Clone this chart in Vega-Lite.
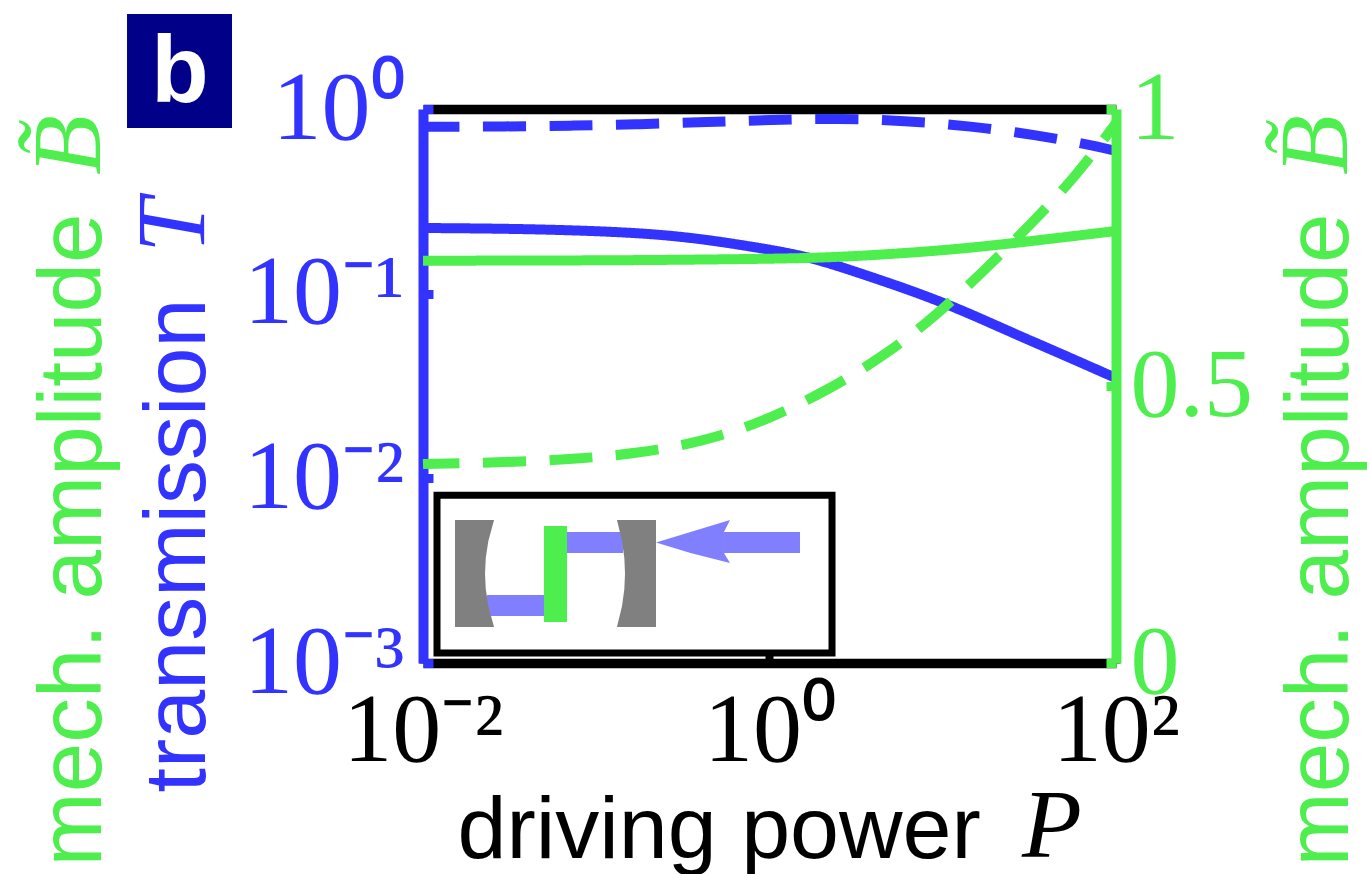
{
"$schema":"https://vega.github.io/schema/vega-lite/v6.json",
"width":693,"height":554,
"autosize":"none",
"padding":{"left":423,"top":109,"right":251,"bottom":211},
"background":"white",
"config":{"view":{"stroke":null},"axis":{"grid":false}},
"datasets":{
"blue":[
{"P":0.01,"T":0.2268,"model":"solid"},{"P":0.0363,"T":0.2248,"model":"solid"},{"P":0.1371,"T":0.2166,"model":"solid"},{"P":0.334,"T":0.2035,"model":"solid"},{"P":0.8035,"T":0.1796,"model":"solid"},{"P":1.714,"T":0.1586,"model":"solid"},{"P":3.33,"T":0.1289,"model":"solid"},{"P":6.47,"T":0.1047,"model":"solid"},{"P":12.6,"T":0.0823,"model":"solid"},{"P":24.4,"T":0.0622,"model":"solid"},{"P":47.5,"T":0.0475,"model":"solid"},{"P":100,"T":0.0349,"model":"solid"},
{"P":0.01,"T":0.801,"model":"dashed"},{"P":0.0305,"T":0.804,"model":"dashed"},{"P":0.0735,"T":0.812,"model":"dashed"},{"P":0.179,"T":0.826,"model":"dashed"},{"P":0.4355,"T":0.85,"model":"dashed"},{"P":1.007,"T":0.872,"model":"dashed"},{"P":2.48,"T":0.89,"model":"dashed"},{"P":6.05,"T":0.864,"model":"dashed"},{"P":14.4,"T":0.809,"model":"dashed"},{"P":35,"T":0.723,"model":"dashed"},{"P":77.6,"T":0.63,"model":"dashed"},{"P":100,"T":0.592,"model":"dashed"}],
"green":[
{"P":0.01,"B":0.7262,"model":"solid"},{"P":0.1371,"B":0.7266,"model":"solid"},{"P":0.881,"B":0.7293,"model":"solid"},{"P":2.15,"B":0.7316,"model":"solid"},{"P":5.16,"B":0.7383,"model":"solid"},{"P":12.6,"B":0.7473,"model":"solid"},{"P":30.6,"B":0.7605,"model":"solid"},{"P":100,"B":0.7798,"model":"solid"},
{"P":0.01,"B":0.3592,"model":"dashed"},{"P":0.0305,"B":0.3623,"model":"dashed"},{"P":0.0735,"B":0.3677,"model":"dashed"},{"P":0.172,"B":0.378,"model":"dashed"},{"P":0.413,"B":0.3995,"model":"dashed"},{"P":0.916,"B":0.435,"model":"dashed"},{"P":2.15,"B":0.4915,"model":"dashed"},{"P":4.52,"B":0.5529,"model":"dashed"},{"P":9.02,"B":0.6251,"model":"dashed"},{"P":17.5,"B":0.7094,"model":"dashed"},{"P":32.7,"B":0.7937,"model":"dashed"},{"P":59.6,"B":0.8809,"model":"dashed"},{"P":100,"B":0.9747,"model":"dashed"}],
"mirrors":[
{"m":"left","v":25.81,"u1":4.62,"u2":10.25},{"m":"left","v":22,"u1":4.62,"u2":9.43},{"m":"left","v":19,"u1":4.62,"u2":9.06},{"m":"left","v":16.15,"u1":4.62,"u2":8.95},{"m":"left","v":13.3,"u1":4.62,"u2":9.06},{"m":"left","v":10.3,"u1":4.62,"u2":9.43},{"m":"left","v":6.5,"u1":4.62,"u2":10.25},
{"m":"right","v":25.81,"u1":27.99,"u2":33.62},{"m":"right","v":22,"u1":28.72,"u2":33.62},{"m":"right","v":19,"u1":29.05,"u2":33.62},{"m":"right","v":16.15,"u1":29.15,"u2":33.62},{"m":"right","v":13.3,"u1":29.05,"u2":33.62},{"m":"right","v":10.3,"u1":28.72,"u2":33.62},{"m":"right","v":6.5,"u1":27.99,"u2":33.62}],
"arrowhead":[
{"v":25.81,"u1":44.3,"u2":44.3},{"v":23.65,"u1":38.6,"u2":43.43},{"v":21.75,"u1":33.62,"u2":43.43},{"v":19.86,"u1":38.6,"u2":43.43},{"v":18.05,"u1":44.3,"u2":44.3}]
},
"layer":[
{"data":{"name":"blue"},
 "mark":{"type":"line","color":"#3333ff","strokeWidth":10,"clip":false,"interpolate":"basis","strokeDashOffset":6.5},
 "encoding":{
  "x":{"field":"P","type":"quantitative","scale":{"type":"log","domain":[0.01,100]},
   "axis":{"orient":"bottom","values":[0.01,1,100],"title":"driving power","titleFont":"Liberation Sans","titleFontWeight":"normal","titleFontSize":88,"titleColor":"black","titleX":34,"titleY":194,"titleAlign":"left","titleAnchor":"start","titleBaseline":"alphabetic","labelFont":"Liberation Serif","labelFontSize":98,"labelColor":"black","labelPadding":28,"labelBaseline":"top","labelOverlap":false,"labelFlush":false,"labelBound":false,"labelExpr":"datum.value==0.01?'10⁻²':(datum.value==1?'10⁰':'10²')","domainColor":"black","domainWidth":9.5,"tickColor":"black","tickWidth":8,"tickSize":-8}},
  "y":{"field":"T","type":"quantitative","scale":{"type":"log","domain":[0.001,1]},
   "axis":{"orient":"left","values":[0.001,0.01,0.1,1],"title":"transmission","titleFont":"Liberation Sans","titleFontWeight":"normal","titleFontSize":88,"titleColor":"#3333ff","titleAngle":270,"titleX":-219,"titleY":683,"titleAlign":"left","titleAnchor":"start","titleBaseline":"alphabetic","labelFont":"Liberation Serif","labelFontSize":98,"labelColor":"#3333ff","labelPadding":29,"labelOverlap":false,"labelFlush":false,"labelBound":false,"labelExpr":"datum.value==1?'10⁰':(datum.value==0.1?'10⁻¹':(datum.value==0.01?'10⁻²':'10⁻³'))","domainColor":"#3333ff","domainWidth":10,"tickColor":"#3333ff","tickWidth":9,"tickSize":-10,"encode":{"labels":{"update":{"dx":{"signal":"datum.value==1?0:-17"},"dy":{"signal":"datum.value==1?0:(datum.value==0.1?-16:(datum.value==0.01?-18:-23))"}}}}}},
  "strokeDash":{"field":"model","type":"nominal","scale":{"domain":["solid","dashed"],"range":[[1,0],[43,23.5]]},"legend":null}
 }},
{"data":{"name":"green"},
 "mark":{"type":"line","color":"#4dee4d","strokeWidth":10,"clip":false,"interpolate":"basis","strokeDashOffset":6.5},
 "encoding":{
  "x":{"field":"P","type":"quantitative","scale":{"type":"log","domain":[0.01,100]},
   "axis":{"orient":"top","values":[],"labels":false,"ticks":false,"title":null,"domainColor":"black","domainWidth":9.5}},
  "y":{"field":"B","type":"quantitative","scale":{"type":"linear","domain":[0,1]},
   "axis":{"orient":"right","zindex":1,"values":[0,0.5,1],"title":"mech. amplitude","titleFont":"Liberation Sans","titleFontWeight":"normal","titleFontSize":89,"titleColor":"#4dee4d","titleAngle":270,"titleX":231,"titleY":757,"titleAlign":"left","titleAnchor":"start","titleBaseline":"alphabetic","labelFont":"Liberation Serif","labelFontSize":98,"labelColor":"#4dee4d","labelPadding":24,"labelOverlap":false,"labelFlush":false,"labelBound":false,"labelExpr":"datum.value==1?'1':(datum.value==0.5?'0.5':'0')","domainColor":"#4dee4d","domainWidth":10,"tickColor":"#4dee4d","tickWidth":9,"tickSize":-10,"encode":{"labels":{"update":{"dy":{"signal":"datum.value==1?2:(datum.value==0.5?-19:-23)"}}}}}},
  "strokeDash":{"field":"model","type":"nominal","scale":{"domain":["solid","dashed"],"range":[[1,0],[43,23.5]]},"legend":null}
 }},
{"data":{"values":[{"u":-42.71,"u2":-27.56,"v":117.15,"v2":96.57}]},
 "mark":{"type":"rect","color":"#000088","clip":false},
 "encoding":{
  "x":{"field":"u","type":"quantitative","scale":{"type":"linear","domain":[0,100]},"axis":null},
  "x2":{"field":"u2"},
  "y":{"field":"v","type":"quantitative","scale":{"type":"linear","domain":[0,100]},"axis":{"orient":"left","labels":false,"ticks":false,"domain":false,"values":[],"title":"mech. amplitude","titleFont":"Liberation Sans","titleFontWeight":"normal","titleFontSize":89,"titleColor":"#4dee4d","titleAngle":270,"titleX":-323,"titleY":757,"titleAlign":"left","titleAnchor":"start","titleBaseline":"alphabetic"}},
  "y2":{"field":"v2"}
 }},
{"data":{"values":[{"u":2.02,"u2":59.02,"v":30.3,"v2":1.8}]},
 "mark":{"type":"rect","fill":"white","stroke":"black","strokeWidth":7,"clip":false},
 "encoding":{
  "x":{"field":"u","type":"quantitative","scale":{"type":"linear","domain":[0,100]},"axis":null},
  "x2":{"field":"u2"},
  "y":{"field":"v","type":"quantitative","scale":{"type":"linear","domain":[0,100]},"axis":null},
  "y2":{"field":"v2"}
 }},
{"data":{"values":[{"u":9.24,"u2":17.46,"v":12.27,"v2":8.48},{"u":20.78,"u2":28.86,"v":23.65,"v2":19.86},{"u":43.4,"u2":54.4,"v":23.65,"v2":19.86}]},
 "mark":{"type":"rect","color":"#8080ff","clip":false},
 "encoding":{
  "x":{"field":"u","type":"quantitative","scale":{"type":"linear","domain":[0,100]},"axis":null},
  "x2":{"field":"u2"},
  "y":{"field":"v","type":"quantitative","scale":{"type":"linear","domain":[0,100]},"axis":null},
  "y2":{"field":"v2"}
 }},
{"data":{"name":"mirrors"},
 "mark":{"type":"area","orient":"horizontal","color":"#808080","clip":false},
 "encoding":{
  "x":{"field":"u1","type":"quantitative","scale":{"type":"linear","domain":[0,100]},"axis":null},
  "x2":{"field":"u2"},
  "y":{"field":"v","type":"quantitative","scale":{"type":"linear","domain":[0,100]},"axis":null},
  "detail":{"field":"m"}
 }},
{"data":{"name":"arrowhead"},
 "mark":{"type":"area","orient":"horizontal","color":"#8080ff","clip":false},
 "encoding":{
  "x":{"field":"u1","type":"quantitative","scale":{"type":"linear","domain":[0,100]},"axis":null},
  "x2":{"field":"u2"},
  "y":{"field":"v","type":"quantitative","scale":{"type":"linear","domain":[0,100]},"axis":null}
 }},
{"data":{"values":[{"u":17.46,"u2":20.78,"v":24.73,"v2":7.4}]},
 "mark":{"type":"rect","color":"#4dee4d","clip":false},
 "encoding":{
  "x":{"field":"u","type":"quantitative","scale":{"type":"linear","domain":[0,100]},"axis":null},
  "x2":{"field":"u2"},
  "y":{"field":"v","type":"quantitative","scale":{"type":"linear","domain":[0,100]},"axis":null},
  "y2":{"field":"v2"}
 }},
{"data":{"values":[{"u":-35.06,"v":106.4,"t":"b"}]},
 "mark":{"type":"text","color":"white","font":"Liberation Sans","fontWeight":"bold","fontSize":94,"align":"center","baseline":"middle","clip":false},
 "encoding":{
  "x":{"field":"u","type":"quantitative","scale":{"type":"linear","domain":[0,100]},"axis":null},
  "y":{"field":"v","type":"quantitative","scale":{"type":"linear","domain":[0,100]},"axis":null},
  "text":{"field":"t"}
 }},
{"data":{"values":[{"u":-46.6,"v":88.09,"t":"B̃","c":"g"},{"u":133.33,"v":88.09,"t":"B̃","c":"g"},{"u":-31.6,"v":74,"t":"T","c":"b"}]},
 "mark":{"type":"text","font":"Liberation Serif","fontStyle":"italic","fontSize":98,"align":"left","baseline":"alphabetic","angle":270,"clip":false},
 "encoding":{
  "x":{"field":"u","type":"quantitative","scale":{"type":"linear","domain":[0,100]},"axis":null},
  "y":{"field":"v","type":"quantitative","scale":{"type":"linear","domain":[0,100]},"axis":null},
  "text":{"field":"t"},
  "color":{"field":"c","type":"nominal","scale":{"domain":["g","b"],"range":["#4dee4d","#3333ff"]},"legend":null}
 }},
{"data":{"values":[{"u":86.44,"v":-35,"t":"P"}]},
 "mark":{"type":"text","font":"Liberation Serif","fontStyle":"italic","fontSize":98,"align":"left","baseline":"alphabetic","color":"black","clip":false},
 "encoding":{
  "x":{"field":"u","type":"quantitative","scale":{"type":"linear","domain":[0,100]},"axis":null},
  "y":{"field":"v","type":"quantitative","scale":{"type":"linear","domain":[0,100]},"axis":null},
  "text":{"field":"t"}
 }}
],
"resolve":{"scale":{"x":"independent","y":"independent","color":"independent","strokeDash":"independent"},"axis":{"x":"independent","y":"independent"}}
}
